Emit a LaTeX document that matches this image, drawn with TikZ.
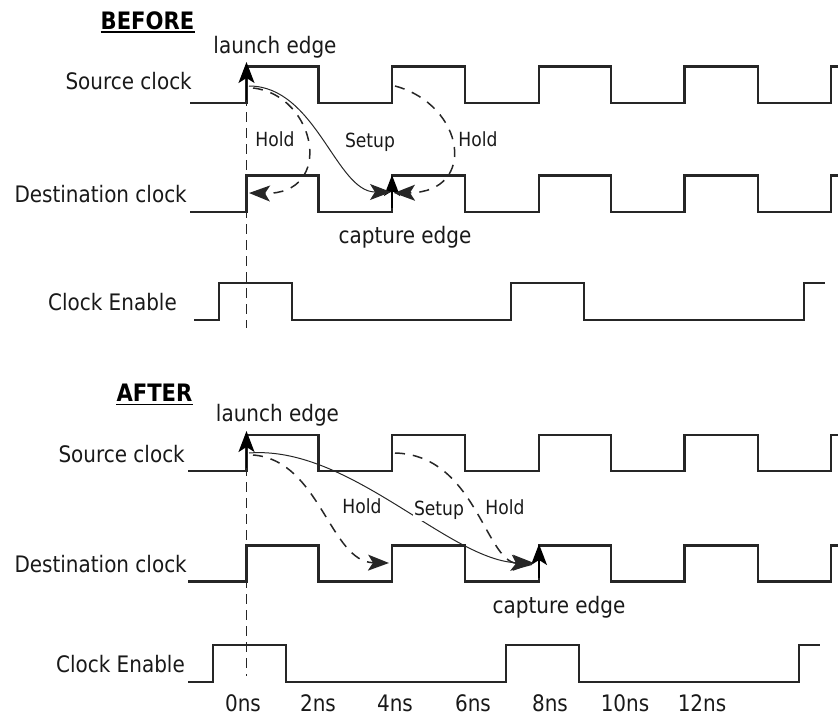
\documentclass[tikz,border=0pt]{standalone}
\usepackage{fontspec}
\setmainfont{DejaVu Sans}[FakeStretch=0.88]
\usetikzlibrary{arrows.meta}
\begin{document}
\begin{tikzpicture}[x=1pt,y=-1pt,
  sig/.style={line width=2.2pt, draw=black!85, line join=miter},
  lbl/.style={font=\fontsize{22.7}{26}\selectfont, inner sep=0pt, text=black!90},
  ttl/.style={font=\fontsize{24}{28}\selectfont\bfseries, inner sep=0pt, text=black},
  sml/.style={font=\fontsize{19.5}{22}\selectfont, inner sep=0pt, text=black!90},
  arr/.style={-{Stealth[length=21pt,width=16pt,inset=5pt]}},
  holdarc/.style={arr, line width=1.5pt, dash pattern=on 10pt off 8pt, draw=black!85},
  setuparc/.style={arr, line width=1pt, draw=black!85},
  vdash/.style={line width=1.8pt, draw=black!85, dash pattern=on 10pt off 6pt}]
\useasboundingbox (0,0) rectangle (838,718);

% ---------------- BEFORE ----------------
\node[ttl, anchor=base] (bef) at (147.5,29) {BEFORE};
\draw[line width=1.6pt] ([yshift=-3pt]bef.base west) -- ([yshift=-3pt]bef.base east);
\node[lbl, anchor=base] (bl) at (275,53) {launch edge};
\node[lbl, anchor=base east] (bsrc) at (192,89) {Source clock};
\node[lbl, anchor=base east] (bdst) at (187,202) {Destination clock};
\node[lbl, anchor=base east] (ben) at (177,310) {Clock Enable};
\node[lbl, anchor=base] (bc) at (405,243) {capture edge};

% source clock
\draw[sig] (190,103) -- (246.5,103) -- (246.5,66.5) -- (318.5,66.5) -- (318.5,103)
  -- (392,103) -- (392,66.5) -- (465,66.5) -- (465,103) -- (539,103) -- (539,66.5)
  -- (611,66.5) -- (611,103) -- (684.5,103) -- (684.5,66.5) -- (758,66.5) -- (758,103)
  -- (831,103) -- (831,66.5) -- (840,66.5);
% destination clock
\draw[sig] (190,212) -- (246.5,212) -- (246.5,175.5) -- (318.5,175.5) -- (318.5,212)
  -- (392,212) -- (392,175.5) -- (465,175.5) -- (465,212) -- (539,212) -- (539,175.5)
  -- (611,175.5) -- (611,212) -- (684.5,212) -- (684.5,175.5) -- (758,175.5) -- (758,212)
  -- (831,212) -- (831,175.5) -- (840,175.5);
% clock enable
\draw[sig] (194,320) -- (219,320) -- (219,283) -- (292,283) -- (292,320) -- (511,320)
  -- (511,283) -- (584,283) -- (584,320) -- (804,320) -- (804,283) -- (825,283);

% launch / capture markers
\coordinate (bLa) at (246.5,100);
\coordinate (bLb) at (246.5,62);
\coordinate (bD1) at (246.5,80);
\coordinate (bD2) at (246.5,328);
\draw[vdash] (bD1) -- (bD2);
\draw[arr, line width=1.5pt] (bLa) -- (bLb);
\coordinate (bCa) at (392,208);
\coordinate (bCb) at (392,175);
\draw[arr, line width=1.5pt] (bCa) -- (bCb);

% arcs
\coordinate (bS0) at (249,86);
\coordinate (bS1) at (391,192);
\draw[setuparc] (bS0) .. controls (316,86) and (336,192) .. (bS1);
\coordinate (bH0) at (253,88);
\coordinate (bH1) at (249,193);
\draw[holdarc] (bH0) .. controls (316,95) and (336,195) .. (bH1);
\coordinate (bK0) at (395,86);
\coordinate (bK1) at (394,193);
\draw[holdarc] (bK0) .. controls (465,105) and (478,192) .. (bK1);

\node[sml, anchor=base] (bh1) at (275,146.5) {Hold};
\node[sml, anchor=base] (bsu) at (370,147) {Setup};
\node[sml, anchor=base] (bh2) at (478,146.5) {Hold};

% ---------------- AFTER ----------------
\node[ttl, anchor=base] (aft) at (154.5,401.5) {AFTER};
\draw[line width=1.6pt] ([yshift=-3pt]aft.base west) -- ([yshift=-3pt]aft.base east);
\node[lbl, anchor=base] (al) at (277.5,421.5) {launch edge};
\node[lbl, anchor=base east] (asrc) at (185,462) {Source clock};
\node[lbl, anchor=base east] (adst) at (187,572) {Destination clock};
\node[lbl, anchor=base east] (aen) at (185,672) {Clock Enable};
\node[lbl, anchor=base] (ac) at (559,613) {capture edge};

\draw[sig] (188,471) -- (246.5,471) -- (246.5,435) -- (318.5,435) -- (318.5,471)
  -- (392,471) -- (392,435) -- (465,435) -- (465,471) -- (539,471) -- (539,435)
  -- (611,435) -- (611,471) -- (684.5,471) -- (684.5,435) -- (758,435) -- (758,471)
  -- (831,471) -- (831,435) -- (840,435);
\draw[sig] (188,581.5) -- (246.5,581.5) -- (246.5,545.5) -- (318.5,545.5) -- (318.5,581.5)
  -- (392,581.5) -- (392,545.5) -- (465,545.5) -- (465,581.5) -- (539,581.5) -- (539,545.5)
  -- (611,545.5) -- (611,581.5) -- (684.5,581.5) -- (684.5,545.5) -- (758,545.5) -- (758,581.5)
  -- (831,581.5) -- (831,545.5) -- (840,545.5);
\draw[sig] (188,682) -- (213,682) -- (213,645) -- (286,645) -- (286,682) -- (506,682)
  -- (506,645) -- (579,645) -- (579,682) -- (799,682) -- (799,645) -- (820,645);

\coordinate (aLa) at (246.5,468);
\coordinate (aLb) at (246.5,431);
\coordinate (aD1) at (246.5,450);
\coordinate (aD2) at (246.5,676);
\draw[vdash] (aD1) -- (aD2);
\draw[arr, line width=1.5pt] (aLa) -- (aLb);
\coordinate (aCa) at (539,578);
\coordinate (aCb) at (539,544);
\draw[arr, line width=1.5pt] (aCa) -- (aCb);

\coordinate (aS0) at (249,453);
\coordinate (aS1) at (534,563);
\coordinate (aH0) at (253,455);
\coordinate (aH1) at (389,563);
\coordinate (aK0) at (395,453);
\coordinate (aK1) at (532,565);
\draw[holdarc] (aH0) .. controls (320,460) and (330,562) .. (aH1);
\draw[holdarc] (aK0) .. controls (475,455) and (485,560) .. (aK1);
\draw[setuparc] (aS0) .. controls (350,445) and (450,562) .. (aS1);

\node[sml, anchor=base] (ah1) at (362,513) {Hold};
\node[sml, anchor=base, fill=white, inner sep=1.5pt] (asu) at (439,515) {Setup};
\node[sml, anchor=base] (ah2) at (505,514) {Hold};

% time axis
\node[lbl, anchor=base] (t0) at (243,711) {0ns};
\node[lbl, anchor=base] (t2) at (318,711) {2ns};
\node[lbl, anchor=base] (t4) at (395,711) {4ns};
\node[lbl, anchor=base] (t6) at (473,711) {6ns};
\node[lbl, anchor=base] (t8) at (550,711) {8ns};
\node[lbl, anchor=base] (t10) at (625,711) {10ns};
\node[lbl, anchor=base] (t12) at (702,711) {12ns};
\end{tikzpicture}
\end{document}
